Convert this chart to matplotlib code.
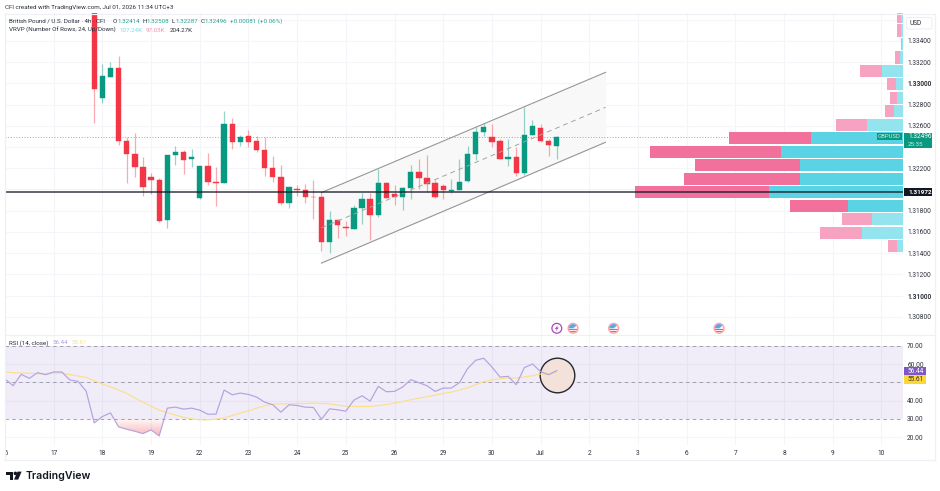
import numpy as np
from matplotlib import pyplot as plt
from matplotlib.patches import Circle, FancyBboxPatch, Polygon, Rectangle, Wedge
from matplotlib.transforms import Bbox

plt.rcParams["font.family"] = ["Roboto", "DejaVu Sans"]

# 4h candles, bar number counted from the 17th open
first_bar = 5
opens = [1.33687, 1.32865, 1.33063, 1.33144, 1.32461, 1.32338, 1.32216, 1.32118, 1.32094, 1.31708,
         1.32325, 1.32357, 1.32285, 1.31924, 1.32222, 1.32075, 1.32059, 1.32614, 1.32445, 1.32504,
         1.32454, 1.32369, 1.32207, 1.32118, 1.31871, 1.32009, 1.31993, 1.31933, 1.31930, 1.31506,
         1.31708, 1.31651, 1.31632, 1.31823, 1.31911, 1.31764, 1.32062, 1.31955, 1.31927, 1.32015,
         1.32162, 1.32109, 1.32065, 1.32037, 1.31986, 1.31993, 1.32078, 1.32335, 1.32542, 1.32498,
         1.32454, 1.32291, 1.32306, 1.32156, 1.32513, 1.32583, 1.32461, 1.32414]
highs = [1.33734, 1.33179, 1.33198, 1.33254, 1.32495, 1.32536, 1.32306, 1.32159, 1.32112, 1.32329,
         1.32410, 1.32369, 1.32385, 1.32222, 1.32344, 1.32212, 1.32736, 1.32677, 1.32517, 1.32558,
         1.32501, 1.32495, 1.32320, 1.32228, 1.32028, 1.32040, 1.32052, 1.32094, 1.31977, 1.31795,
         1.31726, 1.31704, 1.31858, 1.31971, 1.31967, 1.32193, 1.32068, 1.32047, 1.32021, 1.32228,
         1.32291, 1.32322, 1.32094, 1.32052, 1.32103, 1.32285, 1.32414, 1.32589, 1.32626, 1.32621,
         1.32479, 1.32473, 1.32400, 1.32777, 1.32658, 1.32621, 1.32479, 1.32508]
lows = [1.32623, 1.32818, 1.33063, 1.32416, 1.32062, 1.32118, 1.31936, 1.31962, 1.31689, 1.31638,
        1.32231, 1.32143, 1.32212, 1.31908, 1.32047, 1.31842, 1.32059, 1.32385, 1.32407, 1.32398,
        1.32350, 1.32131, 1.32071, 1.31854, 1.31830, 1.31939, 1.31873, 1.31720, 1.31419, 1.31403,
        1.31538, 1.31563, 1.31632, 1.31679, 1.31522, 1.31739, 1.31918, 1.31852, 1.31805, 1.31911,
        1.32002, 1.31977, 1.31918, 1.31908, 1.31967, 1.31993, 1.32068, 1.32282, 1.32508, 1.32398,
        1.32287, 1.32219, 1.32127, 1.32134, 1.32513, 1.32451, 1.32316, 1.32287]
closes = [1.32946, 1.33069, 1.33144, 1.32454, 1.32338, 1.32216, 1.32024, 1.32094, 1.31701, 1.32329,
          1.32357, 1.32282, 1.32304, 1.32222, 1.32075, 1.32059, 1.32614, 1.32448, 1.32492, 1.32451,
          1.32369, 1.32203, 1.32118, 1.31871, 1.32021, 1.31993, 1.31933, 1.31927, 1.31506, 1.31708,
          1.31666, 1.31635, 1.31823, 1.31911, 1.31764, 1.32062, 1.31924, 1.31927, 1.32018, 1.32169,
          1.32109, 1.32056, 1.31927, 1.31993, 1.31999, 1.32068, 1.32338, 1.32545, 1.32589, 1.32451,
          1.32287, 1.32310, 1.32156, 1.32511, 1.32602, 1.32454, 1.32416, 1.32496]

# trend channel anchors, bars and prices
channel_bars = [33, 68]
channel_upper = [1.31971, 1.33104]
channel_lower = [1.31306, 1.32445]

last_price = 1.32496
level_price = 1.31972

# visible range profile rows, lowest row first (thousands)
profile_base = 1.31403
profile_row = 0.00127
profile_up = [0.79, 5.70, 4.28, 7.55, 18.49, 14.17, 14.21, 16.84, 12.65,
              4.93, 1.24, 0.83, 1.01, 2.86, 0.37, 0.14, 0.28, 0.32]
profile_down = [1.28, 5.80, 4.18, 8.00, 18.49, 16.01, 14.53, 18.08, 11.40,
                4.32, 1.28, 1.01, 1.24, 3.04, 0.69, 0.14, 0.59, 0.47]
value_area_rows = [3, 4, 5, 6, 7, 8]

# RSI and its average start six bars before the 17th
rsi_first_bar = -6
rsi_values = [51.83, 48.16, 54.40, 52.19, 55.31, 54.21, 55.68, 55.68, 51.28, 50.54,
              45.22, 27.80, 31.29, 33.30, 25.60, 24.32, 23.22, 21.93, 23.95, 20.65,
              35.87, 36.42, 35.32, 35.87, 34.77, 32.57, 32.57, 45.77, 43.21, 44.12,
              43.39, 41.92, 39.17, 37.71, 33.67, 37.71, 37.34, 36.42, 36.24, 29.82,
              35.50, 34.95, 34.22, 40.27, 42.65, 39.72, 47.79, 44.85, 45.04, 47.42,
              51.46, 49.81, 48.15, 45.04, 46.87, 46.87, 49.81, 57.51, 62.09, 63.19,
              58.42, 52.92, 53.29, 48.71, 58.06, 60.07, 55.86, 54.21, 56.44]
rsi_average = [55.68, 55.31, 55.13, 54.95, 54.76, 54.76, 55.13, 54.95, 54.21, 53.48,
               52.74, 50.91, 49.08, 47.61, 45.77, 43.94, 41.56, 39.17, 36.97, 34.77,
               33.49, 32.02, 30.92, 30.00, 29.45, 29.45, 29.82, 30.55, 31.84, 33.12,
               34.40, 35.87, 37.15, 38.07, 38.25, 38.25, 38.44, 38.44, 38.62, 38.44,
               38.25, 37.52, 36.97, 36.79, 36.79, 36.79, 37.33, 37.88, 38.62, 39.53,
               40.45, 41.37, 42.10, 43.02, 43.94, 44.67, 45.77, 47.05, 48.70, 50.36,
               51.27, 52.01, 52.37, 52.37, 52.92, 53.66, 54.57, 54.57, 55.61]

day_labels = ["16", "17", "18", "19", "22", "23", "24", "25", "26", "29",
              "30", "Jul", "2", "3", "6", "7", "8", "9", "10"]
price_ticks = [1.308, 1.310, 1.312, 1.314, 1.316, 1.318, 1.320, 1.322, 1.324,
               1.326, 1.328, 1.330, 1.332, 1.334, 1.336]
# these fall behind the price tags
hidden_price_ticks = [1.320, 1.324, 1.336]
rsi_ticks = [20, 30, 40, 50, 60, 70]
hidden_rsi_ticks = [50]
rsi_guides = [30, 50, 70]

lightning_bar = 62
calendar_bars = [64, 69, 82]
marked_bar = 62
marked_rsi = 53.8

UP = "#089981"
DOWN = "#f23645"
GRID = "#f3f5f9"
FRAME = "#eef0f5"
TEXT = "#2a2e39"
SMALL = 4.7
LEGEND = 4.5

W, H = 940, 491
fig = plt.figure(figsize=(W / 100, H / 100), dpi=100)


def pane(left, top, right, bottom):
    return fig.add_axes([left / W, 1 - bottom / H, (right - left) / W, (bottom - top) / H])


ax = pane(5, 13.5, 903, 334.5)
rsi_ax = pane(5, 334.5, 903, 445)
vp = pane(5, 13.5, 903, 334.5)
ui = fig.add_axes([0, 0, 1, 1])
ui.set_xlim(0, W)
ui.set_ylim(H, 0)
ui.axis("off")

bars = np.arange(first_bar, first_bar + len(opens))
o = np.array(opens)
c = np.array(closes)
colors = [UP if cl >= op else DOWN for op, cl in zip(o, c)]

day_bars = np.arange(len(day_labels)) * 6 - 6
x_range = (-6.0, 104.66)

# price pane
ax.vlines(bars, lows, highs, colors=colors, linewidth=0.9, alpha=0.42, zorder=3)
ax.bar(bars, np.abs(c - o), bottom=np.minimum(o, c), width=0.66, color=colors,
       edgecolor=colors, linewidth=0.3, zorder=4)
ax.fill_between(channel_bars, channel_lower, channel_upper, color="#f8f8f8", zorder=1, linewidth=0)
ax.plot(channel_bars, channel_upper, color="#969696", linewidth=0.8, zorder=5)
ax.plot(channel_bars, channel_lower, color="#969696", linewidth=0.8, zorder=5)
channel_mid = (np.array(channel_upper) + np.array(channel_lower)) / 2
ax.plot(channel_bars, channel_mid, color="#a3a3a3", linewidth=0.7, dashes=(5, 4), zorder=5)
ax.axhline(last_price, color="#26a69a", alpha=0.7, linewidth=0.7, dashes=(1, 1.8), zorder=2)
ax.set_xlim(*x_range)
ax.set_ylim(1.30633, 1.33659)
ax.set_xticks(day_bars)
ax.tick_params(axis="x", length=0, labelbottom=False)
ax.yaxis.tick_right()
ax.set_yticks(price_ticks)
ax.set_yticklabels(["" if t in hidden_price_ticks else f"{t:.5f}" for t in price_ticks])
ax.tick_params(axis="y", length=0, labelsize=SMALL, pad=3, labelcolor=TEXT)
for t, lab in zip(price_ticks, ax.get_yticklabels()):
    if abs(t - 1.33) < 1e-6 or abs(t - 1.31) < 1e-6:
        lab.set_fontweight("bold")
ax.grid(True, color=GRID, linewidth=0.8)
ax.set_axisbelow(True)
for s in ax.spines.values():
    s.set_visible(False)

# volume profile hangs off the right edge of the pane
vp.set_xlim(123.9, 0)
vp.set_ylim(ax.get_ylim())
vp.axis("off")
for row, (up, down) in enumerate(zip(profile_up, profile_down)):
    centre = profile_base + profile_row * (row + 0.5)
    strong = row in value_area_rows
    vp.barh(centre, up, height=profile_row * 0.9, color="#5ad3e4" if strong else "#93e4ee", linewidth=0)
    vp.barh(centre, down, left=up, height=profile_row * 0.9, color="#f2709c" if strong else "#f7a2c0", linewidth=0)
vp.axhline(level_price, color="#131722", linewidth=1.1, alpha=0.85, zorder=6)

# RSI pane
rsi_bars = np.arange(rsi_first_bar, rsi_first_bar + len(rsi_values))
rsi = np.array(rsi_values)
rsi_ax.axhspan(30, 70, color="#7e57c2", alpha=0.11, linewidth=0, zorder=1)
for g in rsi_guides:
    rsi_ax.axhline(g, color="#787b86", alpha=0.65, linewidth=0.7, dashes=(3.5, 3.5), zorder=2)
below = rsi_ax.fill_between(rsi_bars, rsi, 30, where=rsi < 30, interpolate=True, color="none")
fade = np.zeros((64, 1, 4))
fade[..., :3] = (0.95, 0.21, 0.27)
fade[..., 3] = np.linspace(0.02, 0.42, 64)[:, None]
for path in below.get_paths():
    im = rsi_ax.imshow(fade, extent=(x_range[0], x_range[1], 19, 30), aspect="auto", origin="upper", zorder=2)
    im.set_clip_path(path, transform=rsi_ax.transData)
rsi_ax.scatter([marked_bar], [marked_rsi], s=620, facecolor="#f2e2d9", edgecolor="#26262b", linewidth=1.0, zorder=3)
rsi_ax.plot(rsi_bars, rsi_average, color="#fbe08c", linewidth=0.85, zorder=4)
rsi_ax.plot(rsi_bars, rsi, color="#b3a3e0", linewidth=0.85, zorder=5)
rsi_ax.set_xlim(*x_range)
rsi_ax.set_ylim(15.69, 76.2)
rsi_ax.set_xticks(day_bars)
rsi_ax.set_xticklabels(day_labels)
rsi_ax.tick_params(axis="x", length=0, labelsize=SMALL, pad=3.5, labelcolor=TEXT)
rsi_ax.yaxis.tick_right()
rsi_ax.set_yticks(rsi_ticks)
rsi_ax.set_yticklabels(["" if t in hidden_rsi_ticks else f"{t:.2f}" for t in rsi_ticks])
rsi_ax.tick_params(axis="y", length=0, labelsize=SMALL, pad=3, labelcolor=TEXT)
rsi_ax.grid(True, color=GRID, linewidth=0.8)
rsi_ax.set_axisbelow(True)
for s in rsi_ax.spines.values():
    s.set_visible(False)
# the first day label is cut by the pane edge
first_label = rsi_ax.get_xticklabels()[0]
first_label.set_clip_box(Bbox([[5, 0], [60, H]]))
first_label.set_clip_on(True)


def screen_y(axes, value):
    return H - axes.transData.transform((0, value))[1]


def screen_x(axes, bar):
    return axes.transData.transform((bar, 0))[0]


def badge(x0, x1, y0, y1, color):
    ui.add_patch(Rectangle((x0, y0), x1 - x0, y1 - y0, facecolor=color, linewidth=0, zorder=3))


# frame around the panes
for y0 in (13.5, 334.5, 459.5):
    ui.plot([5, 935], [y0, y0], color=FRAME, linewidth=0.9, zorder=1)
for x0 in (5, 935):
    ui.plot([x0, x0], [13.5, 459.5], color=FRAME, linewidth=0.9, zorder=1)
ui.add_patch(FancyBboxPatch((906.5, 17.5), 25.5, 11.5, boxstyle="round,pad=0,rounding_size=1.5",
                            facecolor="white", edgecolor=FRAME, linewidth=0.8, zorder=2))
ui.text(909.5, 23, "USD", fontsize=SMALL, color=TEXT, va="center", zorder=4)

# price tags on the axis
y_last = screen_y(ax, last_price)
badge(877, 901.7, y_last - 3.8, y_last + 3.6, UP)
ui.text(889.3, y_last, "GBPUSD", fontsize=SMALL - 0.4, color="#d8f0eb", ha="center", va="center", zorder=4)
badge(903.5, 932, y_last - 4.2, y_last + 11.2, UP)
ui.text(908, y_last, f"{last_price:.5f}", fontsize=SMALL, color="white", va="center", zorder=4)
ui.text(908, y_last + 7.5, "25:35", fontsize=SMALL - 0.2, color="#c8ebe4", va="center", zorder=4)
y_level = screen_y(ax, level_price)
badge(903.5, 932, y_level - 4, y_level + 4, "#131722")
ui.text(908, y_level, f"{level_price:.5f}", fontsize=SMALL - 0.1, color="white", fontweight="bold", va="center", zorder=4)

# the two RSI tags stack so that both stay readable
y_rsi = screen_y(rsi_ax, rsi_values[-1]) + 0.5
y_avg = y_rsi + 8.5
badge(903.5, 925.7, y_rsi - 4.2, y_rsi + 4.2, "#7e57c2")
ui.text(907.7, y_rsi, f"{rsi_values[-1]:.2f}", fontsize=SMALL, color="white", va="center", zorder=4)
badge(903.5, 925.7, y_avg - 4.1, y_avg + 4.1, "#fdd835")
ui.text(907.7, y_avg, f"{rsi_average[-1]:.2f}", fontsize=SMALL, color=TEXT, va="center", zorder=4)

# title and legend rows
ui.text(5, 7.5, "CFI created with TradingView.com, Jul 01, 2026 11:34 UTC+3", fontsize=LEGEND, color=TEXT, va="center")
ui.text(9, 21, "British Pound / U.S. Dollar · 4h · CFI", fontsize=LEGEND, color=TEXT, va="center")
for x0, gap, key, val in [(113, 4.2, "O", opens[-1]), (142.7, 3.8, "H", highs[-1]),
                          (172, 3.3, "L", lows[-1]), (201, 3.7, "C", closes[-1])]:
    ui.text(x0, 21, key, fontsize=LEGEND, color=TEXT, va="center")
    ui.text(x0 + gap, 21, f"{val:.5f}", fontsize=LEGEND, color="#28a58f", va="center")
ui.text(230, 21, "+0.00081 (+0.06%)", fontsize=LEGEND, color="#28a58f", va="center")
ui.text(9, 30, "VRVP (Number Of Rows, 24, Up/Down)", fontsize=LEGEND, color=TEXT, va="center")
ui.text(119.3, 30, "107.24K", fontsize=LEGEND, color="#7fdcea", va="center")
ui.text(146, 30, "97.03K", fontsize=LEGEND, color="#f590b4", va="center")
ui.text(169.3, 30, "204.27K", fontsize=LEGEND, color=TEXT, va="center")
ui.text(9, 343, "RSI (14, close)", fontsize=LEGEND, color=TEXT, va="center")
ui.text(52.7, 343, f"{rsi_values[-1]:.2f}", fontsize=LEGEND, color="#b09fdf", va="center")
ui.text(71.3, 343, f"{rsi_average[-1]:.2f}", fontsize=LEGEND, color="#fbe08c", va="center")

# event markers above the RSI pane
event_y = 328.3
x_ev = screen_x(ax, lightning_bar)
ui.add_patch(Circle((x_ev, event_y), 4.9, facecolor="white", edgecolor="#ab47bc", linewidth=0.9, zorder=3))
ui.add_patch(Polygon([(x_ev + 1.0, event_y - 3.0), (x_ev - 2.0, event_y + 0.6), (x_ev - 0.2, event_y + 0.6),
                      (x_ev - 1.0, event_y + 3.0), (x_ev + 2.0, event_y - 0.8), (x_ev + 0.2, event_y - 0.8)],
                     facecolor="#ab47bc", linewidth=0, zorder=4))
for bar in calendar_bars:
    x_ev = screen_x(ax, bar)
    ui.add_patch(Circle((x_ev, event_y), 5.6, facecolor="#f9a5a7", linewidth=0, zorder=3))
    disc = Circle((x_ev, event_y), 4.2, facecolor="#fdeaea", linewidth=0, zorder=4)
    ui.add_patch(disc)
    for dy in (0.4, 2.8):
        stripe = Rectangle((x_ev - 5, event_y + dy), 10, 1.1, facecolor="#ef5f68", linewidth=0, zorder=5)
        ui.add_patch(stripe)
        stripe.set_clip_path(disc)
    ui.add_patch(Wedge((x_ev, event_y), 4.2, 180, 320, facecolor="#5aa5ee", linewidth=0, zorder=6))

# TradingView mark and wordmark
ink = "#131722"
ui.add_patch(Polygon([(6, 471.6), (13.4, 471.6), (13.4, 479.6), (9.8, 479.6), (9.8, 475.2), (6, 475.2)], facecolor=ink, linewidth=0))
ui.add_patch(Circle((15.4, 473.4), 1.8, facecolor=ink, linewidth=0))
ui.add_patch(Polygon([(17.6, 471.6), (21.6, 471.6), (18.2, 479.6), (14, 479.6)], facecolor=ink, linewidth=0))
ui.text(25.2, 475.6, "TradingView", fontsize=7.6, color=ink, family=["Inter", "DejaVu Sans"], fontweight="semibold", va="center")

fig.savefig("out.png", dpi=100)
